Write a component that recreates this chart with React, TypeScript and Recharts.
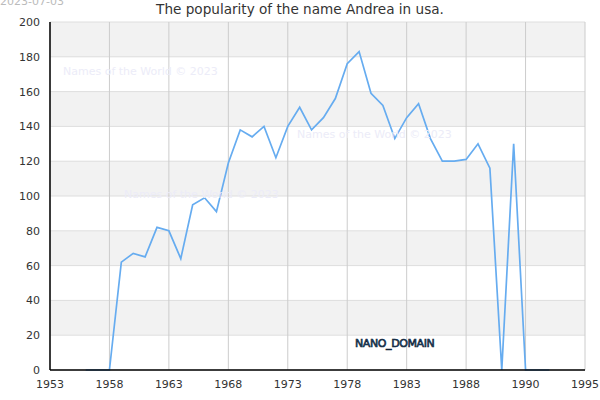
import { LineChart, Line, XAxis, YAxis, CartesianGrid } from "recharts";

const years = [
  1956, 1957, 1958, 1959, 1960, 1961, 1962, 1963, 1964, 1965, 1966, 1967,
  1968, 1969, 1970, 1971, 1972, 1973, 1974, 1975, 1976, 1977, 1978, 1979,
  1980, 1981, 1982, 1983, 1984, 1985, 1986, 1987, 1988, 1989, 1990, 1991,
  1992, 1993, 1994, 1995,
];
const counts = [
  0, 0, 0, 62, 67, 65, 82, 80, 64, 95, 99, 91,
  119, 138, 134, 140, 122, 140, 151, 138, 145, 156, 176, 183,
  159, 152, 133, 145, 153, 133, 120, 120, 121, 130, 116, 0,
  130, 0, 0, 0,
];
const xTicks = [1953, 1958, 1963, 1968, 1973, 1978, 1983, 1988, 1993, 1998];
const xLabels = ["1953", "1958", "1963", "1968", "1973", "1978", "1983", "1988", "1990", "1995"];
const yTicks = [0, 20, 40, 60, 80, 100, 120, 140, 160, 180, 200];

const data = years.map((year, i) => ({ year, count: counts[i] }));

const font = "'DejaVu Sans', sans-serif";
const tickStyle = { fontSize: 11, fill: "#333", fontFamily: font };

export default function App() {
  return (
    <div
      style={{
        position: "absolute",
        left: 0,
        top: 0,
        width: 600,
        height: 400,
        background: "#fff",
        fontFamily: font,
      }}
    >
      <LineChart
        width={600}
        height={400}
        data={data}
        margin={{ top: 22, right: 15, left: 10, bottom: 0 }}
      >
        <CartesianGrid
          vertical={false}
          stroke="#dedede"
          horizontalFill={["#f2f2f2", "#ffffff"]}
        />
        <CartesianGrid horizontal={false} stroke="#cccccc" />
        <XAxis
          dataKey="year"
          type="number"
          domain={[1953, 1998]}
          ticks={xTicks}
          tickFormatter={(v) => xLabels[xTicks.indexOf(v)] ?? String(v)}
          tick={tickStyle}
          tickLine={false}
          axisLine={{ stroke: "#000", strokeWidth: 1.5 }}
          tickMargin={4}
          height={30}
          interval={0}
        />
        <XAxis
          xAxisId="top"
          orientation="top"
          dataKey="year"
          type="number"
          domain={[1953, 1998]}
          tick={false}
          tickLine={false}
          axisLine={{ stroke: "#000", strokeWidth: 1.5 }}
          height={0}
        />
        <YAxis
          type="number"
          domain={[0, 200]}
          ticks={yTicks}
          tick={tickStyle}
          tickLine={false}
          axisLine={{ stroke: "#000", strokeWidth: 1.5 }}
          tickMargin={4}
          width={40}
          interval={0}
        />
        <YAxis
          yAxisId="right"
          orientation="right"
          domain={[0, 200]}
          tick={false}
          tickLine={false}
          axisLine={{ stroke: "#000", strokeWidth: 1.5 }}
          width={0}
        />
        <Line
          type="linear"
          dataKey="count"
          stroke="#66acf0"
          strokeWidth={1.7}
          dot={false}
          isAnimationActive={false}
        />
      </LineChart>
      <div
        style={{
          position: "absolute",
          left: 0,
          top: -5,
          fontSize: 11,
          color: "#bbb",
        }}
      >
        2023-07-03
      </div>
      <div
        style={{
          position: "absolute",
          left: 0,
          width: 600,
          top: 1,
          textAlign: "center",
          fontSize: 13.6,
          color: "#333",
        }}
      >
        The popularity of the name Andrea in usa.
      </div>
      {[
        [63, 65],
        [297, 128],
        [124, 188],
      ].map(([x, y], i) => (
        <div
          key={i}
          style={{
            position: "absolute",
            left: x,
            top: y,
            fontSize: 11,
            color: "#ececf8",
            whiteSpace: "nowrap",
          }}
        >
          Names of the World © 2023
        </div>
      ))}
      <svg
        style={{ position: "absolute", left: 0, top: 0 }}
        width={600}
        height={400}
      >
        <text
          x={355}
          y={347}
          fontSize={11}
          fontFamily={font}
          fill="#1f4e73"
          stroke="#0d2236"
          strokeWidth={0.6}
          letterSpacing={-0.4}
        >
          NANO_DOMAIN
        </text>
      </svg>
    </div>
  );
}
